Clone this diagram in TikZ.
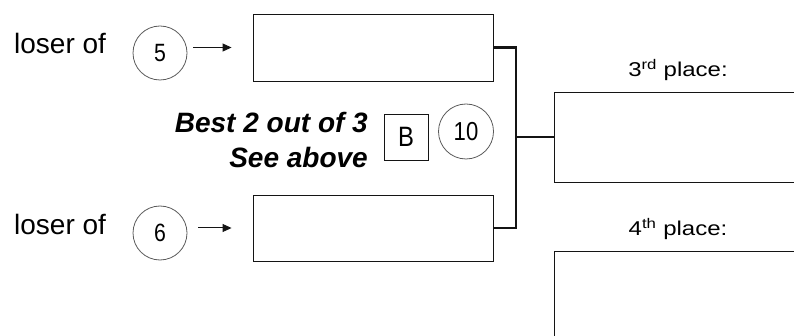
\documentclass[tikz,border=0pt]{standalone}
\usepackage{fontspec}
\setmainfont{Liberation Sans}
\newfontfamily\placefont[FakeStretch=1.2]{Liberation Sans}
\newfontfamily\narrowfont[FakeStretch=0.85]{Liberation Sans}
\usetikzlibrary{arrows.meta}
\definecolor{ringgray}{RGB}{90, 90, 90}
\definecolor{inkblack}{RGB}{20, 20, 20}
\tikzset{
  slotbox/.style={draw=inkblack, line width=0.9pt, minimum width=240pt, minimum height=67pt, inner sep=0pt},
  placebox/.style={draw=inkblack, line width=0.9pt, minimum width=256pt, inner sep=0pt},
  seedring/.style={draw=ringgray, circle, line width=0.8pt, minimum size=54pt, inner sep=0pt, font=\fontsize{25}{29}\narrowfont},
  sidelabel/.style={anchor=base west, inner sep=0pt, font=\fontsize{28}{32}\selectfont},
  notelabel/.style={anchor=base east, inner sep=0pt, font=\fontsize{28}{32}\selectfont\bfseries\itshape},
  placelabel/.style={anchor=base, inner sep=0pt, font=\fontsize{20}{24}\placefont},
  feedarrow/.style={-{Triangle[length=9pt, width=8pt]}, line width=1pt, inkblack},
  bracketline/.style={line width=2.8pt, inkblack}
}
\begin{document}
\begin{tikzpicture}[x=1pt, y=-1pt]
        \useasboundingbox (0, 0) rectangle (794, 336);
        \clip (0, 0) rectangle (794, 336);

        % Semifinal losers
        \node[slotbox] (topslot) at (373, 47.5) {};
        \node[slotbox, minimum height=66pt] (botslot) at (373, 228) {};

        \node[sidelabel] (loser5) at (14, 54) {loser of};
        \node[sidelabel] (loser6) at (14, 235) {loser of};
        \node[seedring] (seed5) at (160, 53) {5};
        \node[seedring] (seed6) at (160, 233) {6};

        \draw[feedarrow] ([xshift=6pt]seed5.east |- topslot.west) -- ([xshift=-21pt]topslot.west);
        \draw[feedarrow] ([xshift=11pt]seed6.east |- botslot.west) -- ([xshift=-21pt]botslot.west);

        % Match note
        \node[notelabel] (bestof) at (368, 133) {Best 2 out of 3};
        \node[notelabel] (seeabove) at (368, 168) {See above};
        \node[draw=inkblack, line width=0.8pt, minimum width=44pt, minimum height=46pt, inner sep=0pt, font=\fontsize{28}{32}\narrowfont] (gameB) at (406, 137) {B};
        \node[seedring, minimum size=55pt, font=\fontsize{26}{30}\narrowfont] (game10) at (466, 131.5) {10};

        % Bracket
        \coordinate (join) at (516, 137);
        \node[placebox, minimum height=90pt] (third) at (682, 137) {};
        \node[placebox, minimum height=100pt] (fourth) at (682, 301) {};
        \draw[bracketline] (topslot.east) -| (join);
        \draw[bracketline] (botslot.east) -| (join);
        \draw[bracketline] (join) -- (third.west);

        % Places
        \node[placelabel] (thirdlabel) at (678, 77) {3\textsuperscript{rd} place:};
        \node[placelabel] (fourthlabel) at (678, 236) {4\textsuperscript{th} place:};
\end{tikzpicture}
\end{document}
